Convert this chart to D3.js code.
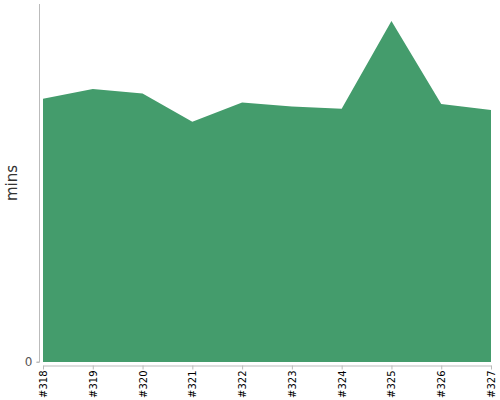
<!DOCTYPE html>
<html>
<head>
<meta charset="utf-8">
<script src="https://cdn.jsdelivr.net/npm/d3@7"></script>
<style>
  body { margin: 0; background: #fff; }
  text { font-family: "DejaVu Sans", sans-serif; }
</style>
</head>
<body>
<script>
var w = 500;
var h = 400;

// build numbers and durations (mins)
var builds = ["#318", "#319", "#320", "#321", "#322", "#323", "#324", "#325", "#326", "#327"];
var mins = [14.7, 15.25, 15.0, 13.42, 14.5, 14.27, 14.15, 19.05, 14.41, 14.08];
var yTicks = [0];

var svg = d3.select("body")
            .append("svg")
            .attr("width", w)
            .attr("height", h);

var x = d3.scalePoint()
    .domain(builds)
    .range([43, 491]);

var y = d3.scaleLinear()
    .domain([0, 20])
    .range([362, 4]);

var data = builds.map(function(b, i) {
    return {build: b, value: mins[i]};
});

// AREA =====================================

var area = d3.area()
    .x(function(d) { return x(d.build); })
    .y0(y(0))
    .y1(function(d) { return y(d.value); });

svg.append("path")
    .datum(data)
    .attr("d", area)
    .attr("fill", "#449c6c");

// AXES =====================================

var yAxis = svg.append("g")
    .attr("transform", "translate(39.5,0)")
    .call(d3.axisLeft(y).tickValues(yTicks).tickSize(3).tickPadding(4));
yAxis.select(".domain")
    .attr("d", "M-3," + y(0) + "H0V" + y(20))
    .attr("stroke", "#bbb");
yAxis.selectAll(".tick line").attr("stroke", "#bbb");
yAxis.selectAll(".tick text")
    .attr("fill", "#555")
    .attr("font-size", "12px");

var xAxis = svg.append("g")
    .attr("transform", "translate(0,365.5)")
    .call(d3.axisBottom(x).tickSize(4).tickSizeOuter(0));
xAxis.select(".domain").attr("stroke", "#bbb");
xAxis.selectAll(".tick line").attr("stroke", "#bbb");
xAxis.selectAll(".tick text")
    .attr("fill", "#000")
    .attr("font-size", "10px")
    .attr("text-anchor", "end")
    .attr("transform", "rotate(-90)")
    .attr("x", -5)
    .attr("y", 0)
    .attr("dy", "0.35em");

svg.append("text")
    .attr("transform", "translate(17,183) rotate(-90)")
    .attr("text-anchor", "middle")
    .attr("font-size", "15px")
    .attr("fill", "#333")
    .text("mins");
</script>
</body>
</html>
